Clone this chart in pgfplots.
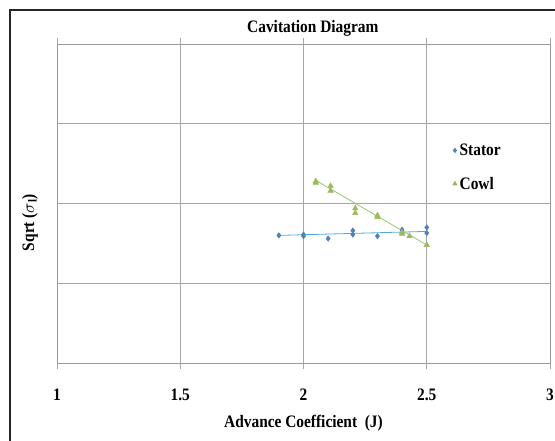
\documentclass[border=0pt]{standalone}
\usepackage{pgfplots}
\pgfplotsset{compat=1.18}
\usepackage{fontspec}
\setmainfont[FakeStretch=0.88]{Liberation Serif}
\definecolor{statorc}{RGB}{79,129,189}
\definecolor{cowlc}{RGB}{155,187,89}
\definecolor{statorl}{RGB}{75,172,220}
\definecolor{cowll}{RGB}{150,200,110}
\newcommand{\bigf}{\fontsize{17.5}{20}\selectfont\bfseries}
\begin{document}
\begin{tikzpicture}
\useasboundingbox (0,0) rectangle (555pt,-441pt);
\draw[line width=1.8pt, black!85] (10pt,-441pt) -- (10pt,-10pt) -- (555pt,-10pt);
\begin{axis}[
  at={(57pt,-44pt)}, anchor=north west,
  scale only axis, width=493pt, height=319pt,
  xmin=1, xmax=3, ymin=0, ymax=4,
  xtick={1,1.5,2,2.5,3}, ytick={1,2,3}, yticklabels={},
  xmajorgrids, ymajorgrids,
  grid style={gray!70, line width=0.6pt},
  axis line style={gray!80, line width=0.8pt},
  tick style={gray!70, line width=0.6pt},
  tick align=outside, major tick length=6pt,
  ytick style={draw=none},
  /pgf/number format/assume math mode=true,
  ticklabel style={font=\bigf},
  xticklabel style={yshift=-16pt},
  xlabel={Advance Coefficient\ \ (J)},
  xlabel style={font=\bigf, at={(axis description cs:0.5,-0.188)}, anchor=center},
  ylabel={Sqrt ($\sigma$\textsubscript{l})},
  ylabel style={font=\bigf, at={(axis description cs:-0.055,0.44)}, anchor=center},
  title={Cavitation Diagram},
  title style={font=\bigf, at={(axis description cs:0.519,1.031)}, anchor=center},
  legend style={draw=none, fill=none, at={(0.795,0.70)}, anchor=north west,
    font=\bigf, row sep=16pt,
    legend cell align=left},
  legend image code/.code={\draw[#1, draw opacity=0] plot coordinates {(0.15cm,0cm)};},
]
\addplot[only marks, mark=diamond*, mark size=2.8pt, color=statorc] coordinates {
(1.90,1.60) (2.00,1.59) (2.00,1.61) (2.10,1.56) (2.20,1.66) (2.20,1.61)
(2.30,1.59) (2.40,1.67) (2.50,1.70) (2.50,1.63)};
\addlegendentry{Stator}
\addplot[only marks, mark=triangle*, mark size=3.2pt, color=cowlc] coordinates {
(2.05,2.28) (2.05,2.26) (2.11,2.22) (2.11,2.16) (2.21,1.94) (2.21,1.88)
(2.30,1.85) (2.30,1.83) (2.40,1.64) (2.40,1.62) (2.43,1.59) (2.50,1.48)};
\addlegendentry{Cowl}
\addplot[statorl, line width=0.8pt, forget plot] coordinates {(1.90,1.60) (2.50,1.65)};
\addplot[cowll, line width=0.8pt, forget plot] coordinates {(2.05,2.29) (2.50,1.48)};
\end{axis}
\end{tikzpicture}
\end{document}
